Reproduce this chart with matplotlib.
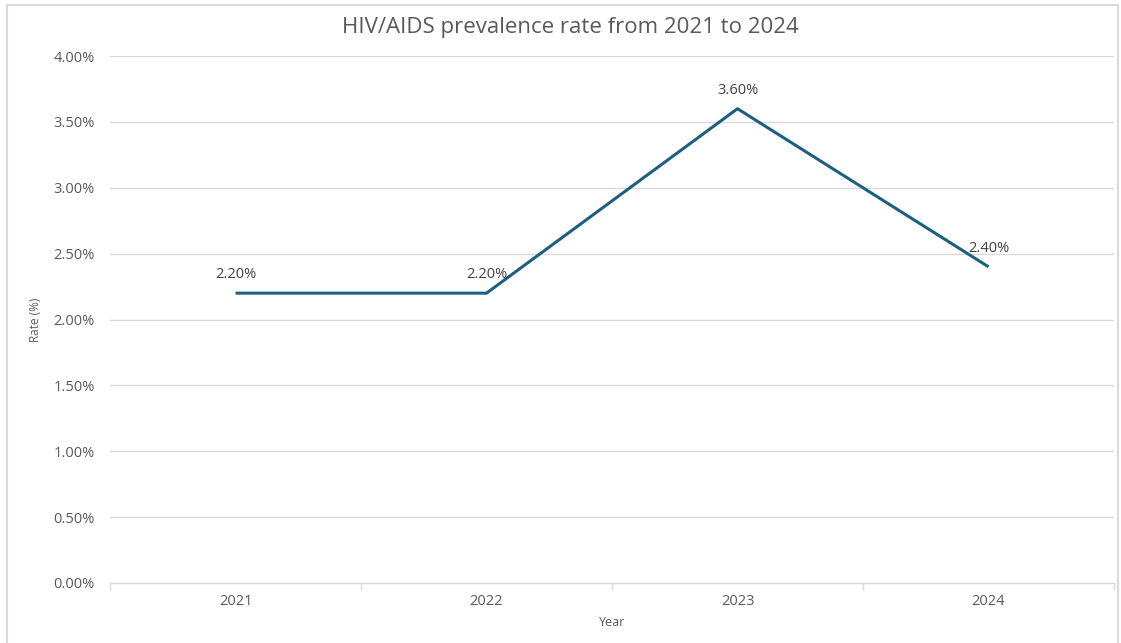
import numpy as np
import matplotlib.pyplot as plt
import matplotlib.patches as mpatches
from matplotlib.ticker import FuncFormatter, FixedLocator

plt.rcParams['font.family'] = ['Open Sans', 'DejaVu Sans']

years = ['2021', '2022', '2023', '2024']
rates = [2.20, 2.20, 3.60, 2.40]

grey = '#595959'
line_col = '#1C5F7E'

fig = plt.figure(figsize=(11.21, 6.43), dpi=100)
# chart frame
fig.patches.append(mpatches.Rectangle((7/1121, -0.01), 1111/1121, 1 - 5/643 + 0.01,
                                      transform=fig.transFigure, fill=False,
                                      edgecolor='#D9D9D9', linewidth=1.5))
ax = fig.add_axes([110/1121, 1 - 583/643, 1004/1121, 527/643])

x = np.arange(len(years))
ax.plot(x, rates, color=line_col, linewidth=2.2, solid_capstyle='butt')
for xi, r in zip(x, rates):
    ax.annotate('%.2f%%' % r, (xi, r), xytext=(0, 8), textcoords='offset points',
                ha='center', va='bottom', fontsize=10.5, color='#404040')

ax.set_xlim(-0.5, len(years) - 0.5)
ax.set_ylim(0, 4.0)
ax.set_yticks(np.arange(0, 4.01, 0.5))
ax.yaxis.set_major_formatter(FuncFormatter(lambda v, p: '%.2f%%' % v))
ax.set_xticks(x)
ax.set_xticklabels(years)
ax.xaxis.set_minor_locator(FixedLocator(np.arange(-0.5, len(years), 1.0)))
ax.tick_params(axis='x', which='major', length=0, pad=8, labelsize=10.5, labelcolor=grey)
ax.tick_params(axis='x', which='minor', length=5, color='#D9D9D9', width=1)
ax.tick_params(axis='y', length=0, pad=11, labelsize=10.5, labelcolor=grey)
ax.grid(axis='y', color='#D9D9D9', linewidth=1)
ax.set_axisbelow(True)
for s in ['top', 'right', 'left']:
    ax.spines[s].set_visible(False)
ax.spines['bottom'].set_color('#D9D9D9')
ax.spines['bottom'].set_linewidth(1)

# title centred on the chart frame rather than the plot area
fig.text(570/1121, 1 - 27/643, 'HIV/AIDS prevalence rate from 2021 to 2024',
         ha='center', va='center', fontsize=16, color=grey)
ax.set_xlabel('Year', fontsize=9, color=grey, labelpad=5)
ax.set_ylabel('Rate (%)', fontsize=8.5, color=grey, labelpad=8)

plt.savefig('out.png', dpi=100)
